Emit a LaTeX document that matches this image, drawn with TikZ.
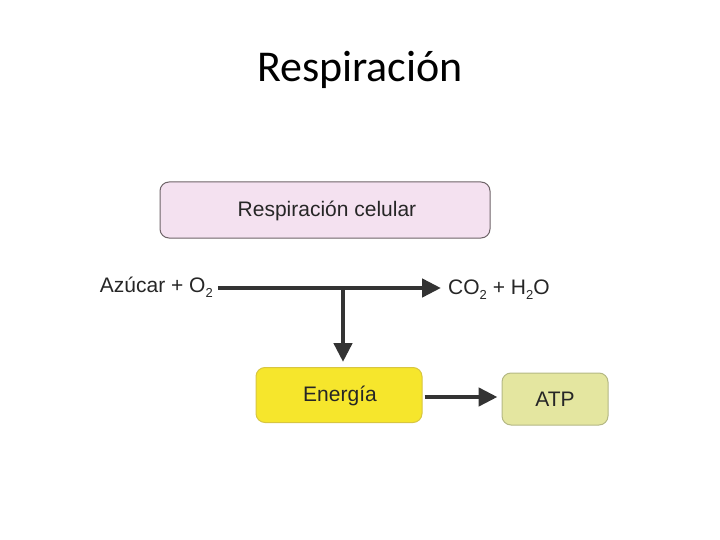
\documentclass[tikz,border=0pt]{standalone}
\usepackage{fontspec}
\setmainfont{Liberation Sans}
\newfontfamily\titlefont{Carlito}
\usetikzlibrary{arrows.meta}
\definecolor{pinkfill}{HTML}{F4E1F0}
\definecolor{pinkdraw}{HTML}{6E6468}
\definecolor{yelfill}{HTML}{F6E62C}
\definecolor{yeldraw}{HTML}{D8C640}
\definecolor{atpfill}{HTML}{E4E6A0}
\definecolor{atpdraw}{HTML}{B4B884}
\definecolor{arrowc}{HTML}{333333}
\newcommand{\chemsub}[1]{\raisebox{-0.45ex}{\fontsize{13}{13}\selectfont #1}}
\begin{document}
\begin{tikzpicture}[x=1pt,y=-1pt,
  box/.style={rounded corners=9pt, line width=1pt, inner sep=0pt},
  lbl/.style={font=\fontsize{21}{24}\selectfont, inner sep=0pt, text=black!85},
  bigarrow/.style={draw=arrowc, line width=4.5pt, -{Triangle[length=19pt,width=18pt]}}]
\useasboundingbox (0,0) rectangle (720,540);
\node[font=\titlefont\fontsize{44}{50}\selectfont, inner sep=0pt] (title) at (360,70) {Respiración};
\node[box, fill=pinkfill, draw=pinkdraw, minimum width=330pt, minimum height=56pt] (resp) at (325,210) {};
\node[lbl] (resptxt) at (327,211) {Respiración celular};
\node[lbl, anchor=east] (azu) at (213,287) {Azúcar + O\chemsub{2}};
\node[lbl, anchor=west] (co2) at (448,290) {CO\chemsub{2} + H\chemsub{2}O};
\node[box, fill=yelfill, draw=yeldraw, minimum width=166pt, minimum height=55pt] (ener) at (339,395) {};
\node[lbl] (enertxt) at (340,396) {Energía};
\node[box, fill=atpfill, draw=atpdraw, minimum width=106pt, minimum height=52pt] (atp) at (555,399) {};
\node[lbl] (atptxt) at (555,399) {ATP};
\coordinate (j) at (343,288);
\coordinate (jend) at (343,362);
\draw[bigarrow] ([xshift=5pt]azu.east |- j) -- ([xshift=-7pt]co2.west |- j);
\draw[bigarrow] ([yshift=-2pt]j) -- (jend);
\draw[bigarrow] ([xshift=2pt]ener.east |- 0,397) -- ([xshift=-4pt]atp.west |- 0,397);
\end{tikzpicture}
\end{document}
